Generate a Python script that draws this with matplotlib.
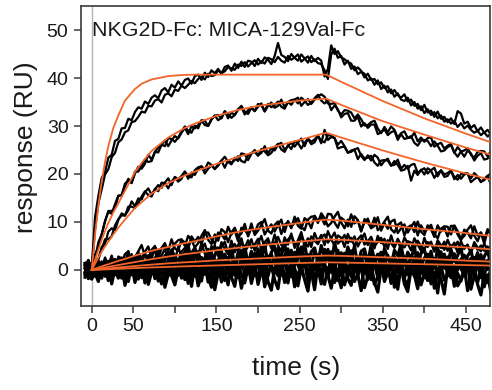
import matplotlib
matplotlib.use("Agg")
import matplotlib.pyplot as plt
import numpy as np

plt.rcParams['font.family'] = ['Liberation Sans', 'DejaVu Sans']

# ---------------- data ----------------
# sampling times of the black sensorgram traces (s)
time_s = np.arange(-8, 481, 4)

top_a = [0.6, -0.5, 0.3, 11.0, 15.4, 19.2, 20.4, 23.4, 24.0, 26.9,
         27.3, 29.5, 29.6, 31.5, 31.2, 32.9, 33.9, 33.6, 35.1, 34.6,
         35.9, 36.4, 35.8, 37.4, 37.9, 37.0, 38.6, 38.0, 39.3, 38.4,
         39.6, 39.9, 38.8, 40.4, 40.7, 39.6, 41.1, 40.2, 41.6, 41.0,
         41.9, 40.9, 42.3, 42.6, 41.5, 43.0, 42.1, 43.4, 42.3, 43.6,
         43.4, 42.5, 44.0, 43.1, 44.3, 43.8, 42.9, 44.6, 47.3, 44.8,
         44.4, 43.5, 45.0, 44.2, 43.6, 44.9, 44.1, 43.2, 44.6, 43.5,
         44.2, 43.6, 40.3, 41.9, 46.8, 45.0, 45.6, 44.3, 43.9, 43.3,
         43.0, 41.6, 42.2, 41.5, 40.1, 40.9, 39.6, 39.8, 38.7, 39.1,
         37.9, 38.3, 36.8, 37.5, 36.4, 35.9, 36.6, 35.1, 35.5, 34.2,
         34.6, 33.3, 34.4, 32.8, 33.2, 31.9, 33.0, 31.5, 31.9, 30.8,
         31.6, 30.4, 33.1, 32.6, 30.5, 30.9, 29.6, 30.2, 28.9, 29.7,
         28.6, 29.2, 28.2]
top_b = [-0.4, 0.7, -0.2, 8.6, 13.9, 16.8, 19.9, 21.0, 23.5, 24.4,
         26.6, 27.2, 28.7, 29.1, 30.8, 31.0, 31.9, 33.0, 32.8, 34.2,
         34.1, 35.3, 35.6, 34.9, 36.5, 36.8, 36.2, 37.6, 37.3, 38.4,
         37.9, 38.6, 39.4, 38.9, 39.8, 40.3, 39.7, 40.9, 40.4, 40.6,
         41.6, 41.0, 41.4, 42.3, 42.0, 41.7, 42.8, 42.5, 43.3, 42.4,
         43.1, 43.7, 42.8, 43.5, 43.0, 44.2, 43.9, 43.3, 44.4, 43.6,
         43.2, 44.6, 43.8, 44.3, 44.9, 43.4, 44.0, 44.5, 43.3, 43.9,
         43.1, 42.9, 41.6, 39.8, 44.9, 46.1, 44.2, 44.6, 42.8, 43.6,
         41.9, 42.4, 40.8, 41.3, 40.9, 39.5, 39.9, 38.6, 39.5, 37.7,
         38.4, 37.0, 37.6, 36.1, 36.8, 35.5, 35.2, 35.9, 34.3, 35.0,
         33.6, 34.1, 32.7, 33.5, 32.3, 32.9, 31.6, 32.2, 30.9, 31.4,
         30.5, 31.1, 29.8, 30.6, 29.5, 30.1, 29.2, 28.6, 29.0, 28.1,
         28.7, 27.8, 28.4]
mid_a = [0.6, -0.3, 0.9, 3.2, 4.7, 7.4, 10.1, 12.3, 12.3, 12.9,
         15.4, 15.6, 18.0, 18.6, 18.1, 20.1, 21.5, 21.1, 22.1, 24.0,
         23.0, 24.6, 24.5, 26.1, 27.0, 25.8, 27.0, 27.9, 27.4, 28.6,
         29.6, 28.3, 30.0, 29.5, 30.2, 31.1, 30.2, 30.0, 31.5, 32.1,
         32.3, 31.6, 33.0, 32.5, 31.7, 32.3, 33.4, 34.2, 33.0, 32.5,
         33.8, 33.1, 34.6, 34.3, 33.0, 34.2, 34.9, 33.8, 34.2, 35.5,
         33.9, 35.0, 34.4, 35.5, 35.9, 34.2, 35.0, 35.6, 34.6, 35.5,
         36.2, 36.6, 36.1, 34.7, 34.6, 34.8, 33.2, 32.4, 33.3, 33.2,
         32.8, 31.6, 32.4, 31.4, 30.1, 30.2, 30.8, 31.1, 29.5, 28.5,
         29.8, 28.7, 29.9, 29.2, 27.6, 28.5, 28.9, 27.5, 27.6, 28.6,
         26.8, 27.6, 26.7, 27.5, 27.6, 25.7, 26.2, 26.5, 25.3, 25.9,
         26.3, 24.4, 25.6, 24.7, 24.9, 25.4, 24.0, 23.4, 24.6, 24.8,
         24.7, 23.7, 24.8]
mid_b = [-0.5, -0.2, 0.4, 2.3, 5.8, 7.4, 10.2, 12.1, 11.7, 13.7,
         15.5, 15.6, 17.4, 19.0, 18.2, 20.5, 20.5, 21.7, 23.0, 22.5,
         22.7, 24.6, 25.5, 26.1, 25.8, 27.5, 27.3, 26.7, 27.6, 28.9,
         29.9, 29.0, 28.6, 30.1, 29.5, 31.2, 31.1, 30.0, 31.3, 32.2,
         31.2, 31.7, 33.1, 31.6, 32.8, 32.3, 33.5, 34.0, 32.4, 33.3,
         33.9, 33.1, 34.0, 34.7, 33.1, 34.6, 33.9, 34.4, 35.1, 34.0,
         33.6, 35.0, 35.4, 35.5, 34.7, 35.9, 35.3, 34.4, 34.8, 35.8,
         36.5, 35.3, 34.7, 35.3, 33.3, 34.3, 33.5, 31.8, 32.5, 32.7,
         31.1, 31.1, 31.9, 29.9, 30.6, 29.6, 30.3, 30.3, 28.3, 28.7,
         29.3, 28.1, 28.7, 29.0, 27.1, 28.3, 27.3, 27.5, 27.9, 26.5,
         25.9, 27.0, 27.1, 26.9, 25.8, 26.8, 25.9, 24.7, 24.9, 25.6,
         26.0, 24.5, 23.6, 24.7, 23.6, 24.9, 24.3, 22.8, 23.8, 24.3,
         23.0, 23.2, 24.3]
third_a = [-0.4, 0.5, 0.3, 1.3, 2.1, 4.8, 5.4, 8.0, 8.7, 8.3,
           10.4, 11.8, 11.4, 12.4, 14.3, 13.3, 14.9, 14.7, 16.2, 17.0,
           15.7, 16.8, 17.7, 17.1, 18.2, 19.1, 17.7, 19.4, 18.9, 19.6,
           20.5, 19.5, 19.3, 20.8, 21.4, 21.6, 20.9, 22.4, 21.9, 21.1,
           21.7, 22.8, 23.6, 22.5, 22.0, 23.4, 22.7, 24.3, 24.1, 22.9,
           24.2, 25.0, 23.9, 24.4, 25.8, 24.3, 25.4, 24.9, 26.1, 26.5,
           25.0, 25.9, 26.5, 25.7, 26.6, 27.4, 25.8, 27.4, 26.7, 27.2,
           28.0, 26.9, 26.6, 28.1, 28.0, 27.5, 26.1, 26.9, 25.8, 24.5,
           24.6, 25.1, 25.4, 23.8, 22.9, 23.9, 22.8, 24.0, 23.4, 21.8,
           22.7, 23.2, 21.8, 21.9, 23.0, 21.1, 21.9, 21.1, 21.9, 22.1,
           20.2, 20.8, 21.2, 20.1, 20.8, 21.3, 19.5, 20.8, 19.9, 20.2,
           20.7, 19.4, 18.8, 20.0, 20.2, 20.1, 19.1, 20.2, 19.5, 18.4,
           18.7, 19.6, 20.1]
third_b = [0.2, 0.8, -0.5, 1.7, 2.4, 4.3, 6.4, 6.4, 7.0, 9.3,
           10.6, 11.4, 11.3, 13.2, 13.2, 12.9, 13.9, 15.3, 16.4, 15.6,
           15.3, 16.9, 16.4, 18.2, 18.1, 17.0, 18.4, 19.3, 18.4, 19.0,
           20.5, 19.0, 20.3, 19.8, 21.1, 21.6, 20.1, 21.1, 21.8, 21.0,
           22.0, 22.8, 21.3, 22.9, 22.3, 22.9, 23.7, 22.7, 22.4, 23.9,
           24.4, 24.6, 23.8, 25.2, 24.7, 23.9, 24.4, 25.5, 26.3, 25.1,
           24.6, 26.0, 25.2, 26.8, 26.5, 25.3, 26.5, 27.3, 26.2, 26.6,
           28.0, 26.4, 29.2, 27.1, 27.7, 27.5, 25.3, 25.6, 25.7, 24.4,
           24.9, 25.1, 23.1, 24.2, 23.2, 23.4, 23.8, 22.4, 21.7, 22.8,
           22.9, 22.8, 21.7, 22.7, 21.9, 20.7, 20.9, 21.7, 18.6, 20.7,
           19.8, 20.9, 19.9, 21.2, 20.7, 19.2, 20.2, 20.7, 19.4, 19.6,
           20.7, 18.9, 19.8, 19.0, 19.9, 20.1, 18.3, 18.9, 19.4, 18.3,
           19.0, 19.6, 17.8]
low1_a = [1.2, -0.4, -1.5, 0.9, 0.7, -0.2, 2.6, 1.0, 1.9, -0.1,
          2.8, 2.4, 1.6, 3.9, 1.6, 2.6, 3.9, 5.2, 2.9, 2.3,
          4.2, 5.0, 2.5, 4.5, 5.1, 3.9, 6.4, 4.5, 4.0, 6.3,
          5.7, 4.3, 7.0, 5.9, 6.9, 5.3, 7.8, 7.8, 6.4, 5.4,
          7.8, 7.4, 6.4, 9.0, 7.4, 8.2, 6.0, 8.8, 8.3, 7.4,
          9.7, 7.3, 8.2, 9.4, 10.6, 8.2, 7.6, 9.4, 10.1, 7.5,
          9.4, 10.0, 8.7, 11.1, 9.2, 8.6, 10.8, 10.2, 8.7, 11.3,
          10.2, 11.1, 9.5, 11.7, 11.6, 9.9, 8.8, 10.9, 10.3, 9.1,
          11.6, 9.7, 10.3, 8.0, 10.6, 9.9, 8.8, 10.9, 8.3, 9.0,
          10.1, 11.1, 8.5, 7.8, 9.4, 9.9, 7.2, 8.9, 9.3, 7.9,
          10.1, 8.0, 7.3, 9.3, 8.5, 6.9, 9.3, 8.0, 8.8, 7.0,
          9.2, 9.1, 7.4, 6.2, 8.4, 7.8, 6.6, 9.1, 7.2, 7.8,
          5.5, 8.1, 7.5]
low1_b = [-1.0, 1.3, 0.6, -1.4, 0.7, 1.8, 0.2, 0.9, 3.0, 0.6,
          2.4, 1.5, 3.3, 3.9, 1.4, 2.7, 3.7, 2.3, 3.8, 4.9,
          2.4, 4.8, 3.7, 4.6, 5.6, 3.9, 3.3, 5.5, 6.2, 6.4,
          5.0, 7.1, 6.2, 4.7, 5.6, 7.1, 8.3, 6.3, 5.4, 7.4,
          6.1, 8.5, 7.9, 5.8, 7.8, 8.8, 7.0, 7.6, 9.6, 7.0,
          8.8, 7.8, 9.5, 10.0, 7.4, 8.6, 9.5, 8.0, 9.4, 10.5,
          7.9, 10.2, 9.0, 9.8, 10.8, 9.0, 8.3, 10.5, 11.1, 11.2,
          9.8, 11.8, 10.8, 9.1, 9.8, 11.1, 12.1, 9.9, 8.7, 10.5,
          9.0, 11.2, 10.4, 8.2, 9.9, 10.7, 8.7, 9.2, 11.0, 8.2,
          9.8, 8.6, 10.1, 10.5, 7.7, 8.7, 9.5, 7.8, 9.0, 10.0,
          7.2, 9.3, 8.0, 8.6, 9.4, 7.5, 6.6, 8.6, 9.1, 9.0,
          7.4, 9.3, 8.1, 6.4, 7.1, 8.4, 9.3, 7.2, 6.0, 7.8,
          6.3, 8.5, 7.8]
low2_a = [0.9, -1.2, 0.4, 1.6, -0.8, 0.3, 2.1, -0.5, 1.2, 2.0,
          -0.1, 2.6, 0.4, 1.9, 3.3, 0.5, 2.2, 1.0, 3.6, 1.3,
          2.9, 4.2, 1.1, 3.0, 4.4, 2.0, 3.7, 1.8, 4.9, 2.6,
          3.9, 5.4, 2.3, 4.1, 3.0, 5.6, 3.4, 2.2, 5.0, 4.3,
          2.9, 5.8, 4.4, 3.3, 6.1, 3.7, 5.2, 6.6, 3.8, 4.9,
          6.4, 4.0, 5.5, 7.1, 4.3, 6.0, 4.9, 7.4, 5.1, 3.9,
          6.8, 5.3, 7.6, 4.6, 6.2, 7.9, 5.0, 6.6, 4.8, 7.7,
          6.0, 7.3, 5.2, 8.1, 6.4, 5.1, 7.2, 6.7, 4.8, 7.5,
          5.9, 7.0, 4.9, 6.3, 7.6, 5.2, 6.1, 4.5, 7.1, 5.6,
          6.5, 4.4, 7.2, 5.0, 6.1, 4.3, 6.8, 5.5, 4.1, 6.6,
          5.3, 4.0, 6.7, 4.8, 5.9, 3.8, 6.2, 5.1, 4.2, 6.3,
          4.6, 5.7, 3.6, 6.0, 4.4, 5.3, 3.5, 5.8, 4.7, 3.9,
          5.5, 4.1, 4.8]
low2_b = [-0.7, 1.1, -0.3, 0.2, 1.5, -1.0, 0.8, 1.9, 0.0, -0.6,
          1.8, 0.6, 2.4, -0.2, 1.4, 2.8, 0.9, 2.2, 0.7, 3.1,
          1.6, 2.5, 4.0, 1.9, 3.1, 2.3, 4.3, 3.0, 1.9, 3.8,
          4.6, 2.7, 3.6, 4.8, 3.1, 4.3, 5.5, 3.2, 4.0, 5.1,
          3.6, 4.7, 5.9, 3.5, 4.6, 5.4, 3.9, 5.7, 4.5, 6.2,
          4.6, 5.3, 6.5, 4.2, 5.8, 6.6, 4.5, 5.6, 6.9, 5.2,
          4.8, 6.3, 7.2, 5.5, 5.0, 6.9, 5.8, 4.9, 7.0, 6.1,
          5.4, 6.8, 7.4, 5.7, 6.6, 7.8, 5.5, 6.2, 7.3, 5.6,
          6.7, 5.0, 6.4, 7.2, 5.3, 6.0, 6.9, 5.1, 5.8, 6.7,
          4.8, 6.2, 5.6, 4.6, 6.5, 5.2, 4.7, 6.0, 5.7, 4.4,
          6.1, 5.0, 4.3, 5.8, 5.5, 4.1, 5.6, 4.6, 5.9, 4.0,
          5.2, 4.7, 5.9, 3.8, 5.0, 4.9, 3.7, 5.4, 4.2, 5.1,
          4.0, 4.9, 3.9]
band_1 = [1.4, -1.1, 0.6, -0.9, 1.8, -0.4, 2.0, -1.3, 0.9, 2.2,
          -0.8, 1.9, 0.2, 2.6, -1.0, 1.3, 3.0, -0.3, 1.7, -1.2,
          2.8, 0.4, 3.2, -0.6, 2.1, 3.6, 0.1, 2.5, -0.2, 3.4,
          1.2, 4.0, 0.3, 2.9, 3.8, -0.1, 2.4, 4.3, 0.8, 3.1,
          4.6, 0.9, 3.3, 1.5, 4.8, 0.7, 3.6, 2.0, 5.0, 1.1,
          3.9, 0.6, 4.4, 2.2, 5.3, 1.0, 3.7, 4.9, 0.8, 3.0,
          5.4, 1.6, 4.1, 0.9, 4.7, 2.5, 5.6, 1.2, 3.8, 4.6,
          1.5, 5.1, 2.4, 4.3, 0.9, 5.7, 2.8, 3.6, 1.3, 4.8,
          2.2, 5.0, 0.8, 3.9, 4.4, 1.4, 5.2, 2.0, 3.3, 0.6,
          4.5, 2.6, 0.9, 4.1, 3.0, 5.3, 1.1, 3.7, 2.3, 4.9,
          0.7, 3.5, 4.2, 1.6, 3.9, 0.4, 4.6, 2.1, 3.3, 0.9,
          4.3, 1.8, 3.0, 4.7, 0.5, 2.9, 4.0, 1.2, 3.6, 0.2,
          2.8, 4.1, 1.0]
band_2 = [-0.9, 1.7, -1.6, 1.0, -0.3, 1.5, -1.1, 0.7, -0.6, 1.4,
          2.1, -0.7, 0.9, -1.3, 2.4, 0.3, -0.8, 2.7, 0.5, 1.6,
          -0.5, 1.8, 2.6, 0.0, 1.1, -0.9, 2.9, 1.4, 0.3, 2.2,
          3.1, 0.5, 1.7, -0.4, 3.4, 1.9, 0.7, 2.8, 3.6, 0.2,
          1.6, 3.9, 0.8, 2.4, 3.1, -0.2, 2.9, 4.1, 1.0, 2.3,
          0.7, 3.5, 2.0, 4.2, 0.9, 2.7, 3.3, 1.2, 4.5, 1.8,
          3.0, 4.4, 0.6, 3.7, 2.1, 4.8, 1.5, 3.2, 0.8, 3.9,
          2.6, 1.0, 4.3, 2.2, 3.8, 1.6, 4.1, 0.5, 3.5, 2.0,
          4.0, 0.9, 2.7, 1.8, 3.6, 0.1, 4.2, 1.5, 2.6, 3.7,
          1.3, 3.1, 0.2, 2.8, 1.0, 3.9, 2.4, 0.5, 3.0, 1.6,
          3.6, 0.8, 2.5, 3.3, -0.3, 2.0, 1.2, 3.8, 0.4, 2.7,
          1.1, 3.4, 0.0, 2.2, 3.1, 1.7, -0.4, 2.6, 1.4, 3.2,
          0.6, 2.0, 1.5]
band_3 = [0.4, 2.0, -1.8, 0.3, -1.2, 1.1, -0.7, 1.6, -1.5, 0.2,
          1.5, -1.7, 0.8, -0.5, 2.0, -1.9, 1.0, 0.1, -1.4, 2.3,
          -0.8, 1.2, -1.6, 2.0, 0.4, -1.2, 2.5, -0.3, 1.1, -1.7,
          1.8, -0.6, 2.4, -1.3, 0.9, 2.6, -0.9, 1.5, -1.8, 2.2,
          0.1, -1.5, 2.8, 0.6, -0.8, 2.1, -1.6, 1.3, 2.9, -0.4,
          1.7, -1.2, 2.5, 0.2, -1.9, 2.7, 0.8, -0.6, 3.0, -1.1,
          2.2, 0.3, -1.4, 2.9, 1.0, -0.7, 3.2, -1.6, 1.6, 0.0,
          2.6, -1.0, 1.4, 3.1, -0.5, 2.0, -1.7, 2.8, 0.6, -0.9,
          2.4, 1.1, -1.3, 2.7, 0.2, -0.8, 2.2, 1.5, -1.6, 2.9,
          0.4, -1.1, 2.5, 0.9, -0.4, 2.1, -1.8, 1.7, 0.5, 2.6,
          -1.3, 1.4, 0.1, 2.3, -0.9, 1.8, -1.5, 2.5, 0.7, -0.2,
          1.9, -1.4, 2.1, 0.3, -1.0, 1.5, 2.4, -0.8, 1.0, -1.6,
          2.0, 0.1, 1.2]
band_4 = [-1.5, 0.8, 1.3, -0.6, 0.9, -1.7, 1.2, 0.0, 1.9, -1.0,
          0.3, 1.6, -2.1, 0.7, 1.4, -0.4, 2.1, -1.6, 0.5, 1.0,
          2.0, -1.4, 0.6, 1.7, -2.0, 1.1, 0.2, 2.2, -1.1, 0.8,
          -0.3, 2.3, -1.9, 1.0, 0.4, -1.2, 2.5, 0.1, 1.3, -2.2,
          2.1, 0.5, -0.9, 2.6, -1.4, 1.4, 0.0, 2.4, -1.0, 1.8,
          -1.6, 2.2, 0.9, -0.5, 2.7, -1.3, 1.5, 2.3, -0.8, 0.6,
          1.9, -1.1, 2.6, 0.3, -1.8, 2.0, 0.7, 2.8, -0.9, 1.2,
          -0.4, 2.5, 1.1, -1.5, 2.2, 0.2, 2.9, -1.2, 1.7, 0.4,
          -1.4, 1.9, 0.6, 2.4, -0.7, 1.3, -2.0, 2.1, 0.8, -0.6,
          2.3, -0.3, 1.6, -1.8, 1.9, 0.0, 2.2, -1.0, 1.3, 0.6,
          -1.7, 2.0, 0.4, -0.8, 1.7, 2.4, -1.3, 0.9, 1.8, -0.5,
          1.2, -1.9, 0.5, 2.0, -1.2, 0.8, 1.6, -0.9, 2.1, 0.0,
          -1.1, 1.4, 0.3]
band_5 = [0.9, -1.8, 1.5, -0.6, -2.4, 0.8, -1.3, 1.2, -2.9, 0.3,
          -1.7, 1.0, -3.2, -0.4, 1.3, -2.6, 0.2, -1.1, 1.6, -3.0,
          -0.5, 1.1, -2.3, 0.7, -3.6, -0.9, 1.4, -2.1, 0.5, -1.4,
          1.2, -2.8, -0.2, 0.9, -3.3, -1.0, 1.5, -2.5, 0.1, -4.1,
          -0.7, 1.3, -2.2, 0.4, -1.5, -3.4, 1.0, -0.8, -2.7, 0.6,
          -1.9, 1.4, -3.0, -0.3, 0.8, -2.4, -4.2, 0.5, -1.2, 1.1,
          -2.6, -0.1, 1.2, -3.5, -1.0, 0.7, -2.0, -4.4, 0.9, -1.6,
          0.3, -2.9, 1.3, -1.1, -3.8, 0.2, -2.2, 1.0, -3.1, -0.6,
          1.4, -2.4, -0.8, 0.6, -3.7, -1.3, 1.1, -2.6, -4.6, 0.4,
          -1.5, 1.0, -2.8, -0.2, -4.0, 0.9, -1.9, -3.3, 0.5, -1.0,
          -3.9, 0.7, -1.6, 1.2, -2.9, -0.5, -4.8, 0.8, -2.1, -1.2,
          1.0, -3.4, -0.7, -2.3, 0.6, -4.3, -1.4, 0.9, -3.0, -5.2,
          -0.8, -2.6, 0.4]
band_6 = [-0.5, 1.3, -1.9, 0.6, 1.7, -1.0, 0.4, -2.2, 1.1, -0.8,
          1.8, -1.5, 0.3, -2.4, 1.2, -0.6, -1.9, 0.9, -2.7, 0.5,
          1.5, -1.8, -0.3, -2.9, 0.8, 1.9, -1.2, -3.1, 0.2, 1.3,
          -2.0, 0.6, -3.4, 1.1, -0.9, -2.3, 1.7, -1.4, -3.6, 0.7,
          1.2, -2.5, -0.4, -3.1, 1.5, -1.1, 0.3, -3.8, -0.7, 1.4,
          -2.8, 0.1, -1.7, 1.6, -3.5, -0.6, 0.9, -2.1, -3.9, 1.0,
          -0.8, -2.7, 1.4, -1.5, -3.3, 0.5, 1.8, -2.4, -0.3, -4.1,
          1.1, -1.6, -3.0, 0.4, 1.2, -2.6, -0.9, -3.7, 1.5, -1.8,
          -3.2, 0.8, -1.0, -4.3, 1.3, -2.0, 0.0, -3.0, -1.4, 1.6,
          -2.4, -0.6, 1.2, -3.6, -1.7, 0.7, -2.9, -4.5, 0.3, -1.3,
          1.0, -3.1, -0.8, -2.2, 1.4, -3.8, -0.4, -1.9, -5.0, 0.6,
          -1.6, 0.9, -3.3, -2.0, -0.5, 1.1, -4.0, -1.2, -2.6, 0.2,
          -3.5, -1.0, -4.6]

# 1:1 model fits (orange)
fit_time = [0, 4, 8, 12, 16, 20, 26, 32, 40, 52, 60, 72, 92, 112, 124,
            150, 175, 200, 250, 282, 300, 350, 400, 450, 480]
fit_1 = [0, 7.4, 13.5, 18.4, 22.5, 25.8, 29.6, 32.2, 35.3, 37.7, 38.8, 39.7,
         40.4, 40.65, 40.7, 40.7, 40.7, 40.7, 40.7, 40.7, 39.2, 35.2, 31.6,
         28.4, 26.6]
fit_2 = [0, 2.1, 4.2, 6.3, 8.1, 9.8, 12.0, 13.9, 16.5, 20.4, 22.3, 24.8,
         27.6, 29.6, 30.5, 32.1, 33.3, 34.2, 35.3, 35.7, 34.4, 31.0, 28.2,
         25.5, 24.0]
fit_3 = [0, 1.3, 2.6, 3.8, 4.9, 5.9, 7.4, 8.8, 10.5, 12.9, 14.1, 15.9, 18.1,
         19.7, 20.5, 22.1, 23.5, 24.8, 27.1, 28.6, 27.6, 24.9, 22.4, 20.1,
         18.8]
fit_4 = [0, 0.25, 0.5, 0.75, 1.0, 1.2, 1.55, 1.9, 2.3, 3.0, 3.4, 4.0, 4.8,
         5.6, 6.0, 7.0, 7.9, 8.6, 9.8, 10.5, 10.3, 9.4, 8.5, 7.7, 7.1]
fit_5 = [0, 0.13, 0.26, 0.39, 0.52, 0.65, 0.84, 1.03, 1.28, 1.65, 1.9, 2.25,
         2.8, 3.3, 3.55, 4.1, 4.6, 5.1, 5.9, 6.4, 6.3, 5.8, 5.2, 4.7, 4.3]
fit_6 = [0, 0.06, 0.13, 0.19, 0.26, 0.32, 0.42, 0.52, 0.64, 0.83, 0.95, 1.12,
         1.38, 1.6, 1.72, 2.0, 2.2, 2.4, 2.8, 3.0, 2.95, 2.65, 2.35, 1.95,
         1.75]
fit_7 = [0, 0.03, 0.06, 0.09, 0.12, 0.15, 0.2, 0.25, 0.3, 0.4, 0.45, 0.53,
         0.65, 0.76, 0.82, 0.95, 1.08, 1.2, 1.45, 1.6, 1.55, 1.38, 1.2, 1.02,
         0.92]

x_ticks = [0, 50, 100, 150, 200, 250, 300, 350, 400, 450]
x_tick_labels = ['0', '50', '', '150', '', '250', '', '350', '', '450']
y_ticks = [0, 10, 20, 30, 40, 50]
title_text = 'NKG2D-Fc: MICA-129Val-Fc'

# ---------------- plot ----------------
fig = plt.figure(figsize=(4.92, 3.90), dpi=100)
ax = fig.add_axes([0.1646, 0.2154, 0.8323, 0.7692])

ax.axvline(0, color='#b4b4b4', lw=1.0, zorder=1)

band_traces = [band_5, band_6, band_3, band_4, band_1, band_2]
for tr in band_traces:
    ax.plot(time_s, tr, color='black', lw=2.3, zorder=2)
for tr in [low2_a, low2_b, low1_a, low1_b]:
    ax.plot(time_s, tr, color='black', lw=1.7, zorder=2)
for tr in [third_a, third_b, mid_a, mid_b, top_a, top_b]:
    ax.plot(time_s, tr, color='black', lw=1.6, zorder=2)

orange = '#f2652a'
for f in [fit_7, fit_6, fit_5, fit_4, fit_3, fit_2, fit_1]:
    ax.plot(fit_time, f, color=orange, lw=1.3, zorder=3)

ax.set_xlim(-12.9, 479.5)
ax.set_ylim(-7.5, 55)
ax.set_xticks(x_ticks)
ax.set_xticklabels(x_tick_labels)
ax.set_yticks(y_ticks)

for s in ax.spines.values():
    s.set_color('#3a3a3a')
    s.set_linewidth(1.2)
ax.tick_params(direction='out', length=5, width=1.1, color='#3a3a3a',
               labelsize=14, labelcolor='#1a1a1a', pad=4)

ax.set_xlabel('time (s)', fontsize=19, color='#1a1a1a')
ax.set_ylabel('response (RU)', fontsize=19, color='#1a1a1a')
ax.xaxis.set_label_coords(0.525, -0.168)
ax.yaxis.set_label_coords(-0.105, 0.53)

ax.text(0.028, 0.92, title_text, transform=ax.transAxes, fontsize=15.4,
        color='#1a1a1a', va='center', ha='left')

fig.savefig('out.png', dpi=100)
